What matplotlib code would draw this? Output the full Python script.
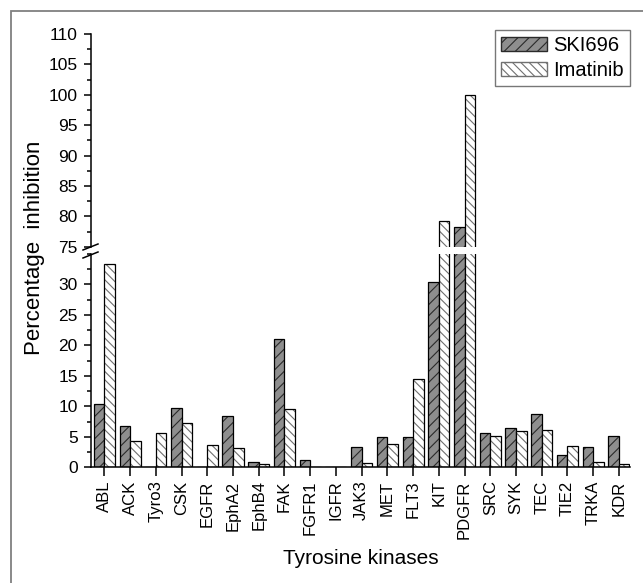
import numpy as np
import matplotlib
matplotlib.use('Agg')
import matplotlib.pyplot as plt
from matplotlib.ticker import MultipleLocator
from matplotlib.patches import Patch, Rectangle
from matplotlib.lines import Line2D

plt.rcParams['font.family'] = ['Liberation Sans', 'DejaVu Sans']
plt.rcParams['hatch.linewidth'] = 0.8

# kinases and % inhibition
kinases = ['ABL', 'ACK', 'Tyro3', 'CSK', 'EGFR', 'EphA2', 'EphB4', 'FAK', 'FGFR1', 'IGFR', 'JAK3',
           'MET', 'FLT3', 'KIT', 'PDGFR', 'SRC', 'SYK', 'TEC', 'TIE2', 'TRKA', 'KDR']
ski696 = [10.4, 6.8, 0, 9.8, 0, 8.4, 0.9, 21.1, 1.2, 0, 3.4,
          4.9, 5.0, 30.4, 78.2, 5.6, 6.5, 8.7, 2.0, 3.3, 5.2]
imatinib = [33.3, 4.3, 5.6, 7.3, 3.6, 3.1, 0.5, 9.6, 0, 0, 0.7,
            3.8, 14.5, 79.3, 100.0, 5.1, 6.0, 6.1, 3.5, 0.8, 0.5]

W, H = 643, 583
fig = plt.figure(figsize=(W / 100, H / 100), dpi=100)

def fx(x):
    return x / W

def fy(y):
    return 1 - y / H

left, right = 91, 630
ax_hi = fig.add_axes([fx(left), fy(246.7), fx(right) - fx(left), fy(34) - fy(246.7)])
ax_lo = fig.add_axes([fx(left), fy(467.3), fx(right) - fx(left), fy(253.8) - fy(467.3)])

x = np.arange(len(kinases))
w = 0.41
for ax in (ax_hi, ax_lo):
    ax.bar(x - w / 2, ski696, w, color='#8e8e8e', edgecolor='#2a2a2a', linewidth=0, hatch='///')
    ax.bar(x - w / 2, ski696, w, fill=False, edgecolor='black', linewidth=0.9)
    ax.bar(x + w / 2, imatinib, w, color='white', edgecolor='#707070', linewidth=0, hatch='\\\\\\\\')
    ax.bar(x + w / 2, imatinib, w, fill=False, edgecolor='black', linewidth=0.9)
    ax.set_xlim(-0.518, 20.43)
    ax.spines['top'].set_visible(False)
    ax.spines['right'].set_visible(False)
    ax.spines['left'].set_linewidth(1.1)
    ax.spines['bottom'].set_linewidth(1.1)
    ax.yaxis.set_major_locator(MultipleLocator(5))
    ax.yaxis.set_minor_locator(MultipleLocator(2.5))
    ax.tick_params(axis='y', which='major', length=5, width=1.1, labelsize=12.5, pad=4.5)
    ax.tick_params(axis='y', which='minor', length=2.6, width=1.1)
    ax.set_facecolor('none')

ax_hi.set_ylim(75, 110)
ax_hi.spines['bottom'].set_visible(False)
ax_hi.set_xticks([])

ax_lo.set_ylim(0, 35)
ax_lo.set_yticks(np.arange(0, 31, 5))
ax_lo.set_xticks(x)
ax_lo.set_xticklabels(kinases, rotation=90, fontsize=12)
ax_lo.tick_params(axis='x', length=6.5, width=1.1, pad=3)

# axis break marks
for y0 in (250, 258):
    fig.add_artist(Line2D([fx(83), fx(98)], [fy(y0), fy(y0 - 6)], color='black', lw=1.1))

fig.text(fx(35), fy(248), 'Percentage  inhibition', rotation=90, ha='center', va='center', fontsize=16)
fig.text(fx(361), fy(558), 'Tyrosine kinases', ha='center', va='center', fontsize=15)

handles = [Patch(facecolor='#8e8e8e', edgecolor='#2a2a2a', hatch='///', label='SKI696'),
           Patch(facecolor='white', edgecolor='#707070', hatch='\\\\\\\\', label='Imatinib')]
leg = fig.legend(handles=handles, loc='upper right', bbox_to_anchor=(fx(630), fy(30)),
                 bbox_transform=fig.transFigure, borderaxespad=0, fontsize=14.5, fancybox=False,
                 framealpha=1, edgecolor='#777777', handlelength=2.3, handleheight=0.75,
                 handletextpad=0.3, labelspacing=0.3, borderpad=0.3)
leg.get_frame().set_linewidth(1.0)

# outer frame
fig.add_artist(Rectangle((fx(11), -0.1), 1.2, fy(11) + 0.1, fill=False, edgecolor='#808080',
                         lw=1.3, transform=fig.transFigure))

fig.savefig('out.png', dpi=100)
